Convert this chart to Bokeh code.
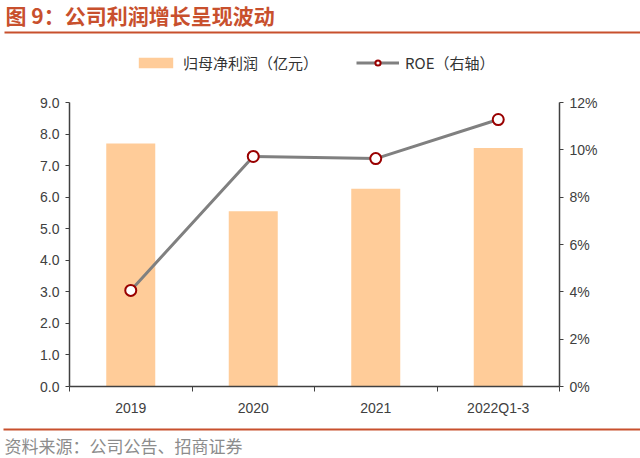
from bokeh.plotting import figure
from bokeh.layouts import column, row
from bokeh.models import (Range1d, LinearAxis, FixedTicker, NumeralTickFormatter,
                          Legend, LegendItem, Label, BoxAnnotation, ColumnDataSource)
from bokeh.embed import file_html
from bokeh.resources import INLINE

categories = ["2019", "2020", "2021", "2022Q1-3"]
profit = [7.7, 5.55, 6.27, 7.56]          # 归母净利润（亿元）
roe = [0.0406, 0.0972, 0.0963, 0.1128]    # ROE（右轴）
left_ticks = [0, 1, 2, 3, 4, 5, 6, 7, 8, 9]
right_ticks = [0, 0.02, 0.04, 0.06, 0.08, 0.10, 0.12]
LEFT_MAX, RIGHT_MAX = 9, 0.12

W = 640
TOP_H, MAIN_H, FOOT_H = 38, 384, 36
FL, FR, FT, FB = 69, 81, 10, 36
AXIS_PX = 284                      # pixel height of the 0..max axis span
FRAME_H = MAIN_H - FT - FB
ACCENT = "#C8502D"
cn_font = "Noto Sans CJK SC"


def blank_fig(h):
    f = figure(width=W, height=h, output_backend="svg", toolbar_location=None,
               x_range=Range1d(0, 1), y_range=Range1d(0, 1),
               x_axis_location=None, y_axis_location=None,
               min_border=0, min_border_left=0, min_border_right=0,
               min_border_top=0, min_border_bottom=0)
    f.grid.visible = False
    f.outline_line_color = None
    f.border_fill_color = "white"
    f.background_fill_color = "white"
    return f


# ---- title strip ----
top = blank_fig(TOP_H)
top.add_layout(Label(x=5, y=TOP_H - 29, x_units="screen", y_units="screen",
                     text="图 9：公司利润增长呈现波动", text_font=cn_font,
                     text_font_size="21px", text_font_style="bold", text_color=ACCENT))
top.add_layout(BoxAnnotation(left=4, right=W, top=TOP_H - 31, bottom=TOP_H - 33,
                             left_units="screen", right_units="screen",
                             top_units="screen", bottom_units="screen",
                             fill_color=ACCENT, fill_alpha=1, line_color=None))

# ---- main chart ----
xs = list(range(len(categories)))
src = ColumnDataSource(dict(x=xs, profit=profit, roe=roe))
ext = FRAME_H / AXIS_PX

p = figure(width=W, height=MAIN_H, output_backend="svg", toolbar_location=None,
           x_range=Range1d(-0.5, len(categories) - 0.5), y_range=Range1d(0, LEFT_MAX * ext),
           min_border_left=FL, min_border_right=FR, min_border_top=FT, min_border_bottom=FB)
p.outline_line_color = None
p.xgrid.visible = False
p.ygrid.visible = False
p.background_fill_color = "white"
p.border_fill_color = "white"
p.extra_y_ranges = {"roe": Range1d(0, RIGHT_MAX * ext)}

bars = p.vbar(x="x", top="profit", width=0.4, source=src, fill_color="#FFCC99",
              line_color=None)
ln = p.line(x="x", y="roe", source=src, y_range_name="roe", line_color="#808080",
            line_width=3)
pts = p.scatter(x="x", y="roe", source=src, y_range_name="roe", size=11,
                fill_color="white", line_color="#990000", line_width=2)

tick_font = "Liberation Sans"
tick_color = "#404040"
axis_color = "#404040"

xa = p.xaxis[0]
xa.ticker = FixedTicker(ticks=xs, minor_ticks=[i - 0.5 for i in range(len(categories) + 1)])
xa.major_label_overrides = {i: c for i, c in enumerate(categories)}
xa.major_tick_line_color = None
xa.minor_tick_line_color = axis_color
xa.minor_tick_in = 0
xa.minor_tick_out = 5
xa.axis_line_color = axis_color
xa.axis_line_width = 1.5
xa.major_label_text_font = tick_font
xa.major_label_text_font_size = "14px"
xa.major_label_text_color = tick_color
xa.major_label_standoff = 7

ya = p.yaxis[0]
ya.ticker = FixedTicker(ticks=left_ticks)
ya.bounds = (0, LEFT_MAX)
ya.formatter = NumeralTickFormatter(format="0.0")
ya.minor_tick_line_color = None
ya.major_tick_in = 0
ya.major_tick_out = 4
ya.axis_line_color = axis_color
ya.axis_line_width = 1.5
ya.major_tick_line_color = axis_color
ya.major_label_text_font = tick_font
ya.major_label_text_font_size = "14px"
ya.major_label_text_color = tick_color
ya.major_label_standoff = 6

ra = LinearAxis(y_range_name="roe", ticker=FixedTicker(ticks=right_ticks),
                formatter=NumeralTickFormatter(format="0%"), bounds=(0, RIGHT_MAX))
ra.minor_tick_line_color = None
ra.major_tick_in = 0
ra.major_tick_out = 4
ra.axis_line_color = axis_color
ra.axis_line_width = 1.5
ra.major_tick_line_color = axis_color
ra.major_label_text_font = tick_font
ra.major_label_text_font_size = "14px"
ra.major_label_text_color = tick_color
ra.major_label_standoff = 6
p.add_layout(ra, "right")

legend = Legend(items=[LegendItem(label="归母净利润（亿元）", renderers=[bars]),
                       LegendItem(label="ROE（右轴）", renderers=[ln, pts])],
                orientation="horizontal", location=(65, FRAME_H - 25),
                glyph_width=43, glyph_height=13, spacing=38,
                label_text_font=cn_font, label_text_font_size="15px",
                label_text_color="#333333", background_fill_alpha=0,
                border_line_color=None, padding=0, margin=0, label_standoff=6)
p.add_layout(legend, "center")

# ---- footer strip ----
foot = blank_fig(FOOT_H)
foot.add_layout(BoxAnnotation(left=3, right=W, top=FOOT_H - 6, bottom=FOOT_H - 8,
                              left_units="screen", right_units="screen",
                              top_units="screen", bottom_units="screen",
                              fill_color=ACCENT, fill_alpha=1, line_color=None))
foot.add_layout(Label(x=4, y=1, x_units="screen", y_units="screen",
                      text="资料来源：公司公告、招商证券", text_font=cn_font,
                      text_font_size="17px", text_color="#8C8C8C"))

layout = column(row(top), row(p), row(foot), spacing=0)
open("out.html", "w").write(file_html(layout, INLINE))
